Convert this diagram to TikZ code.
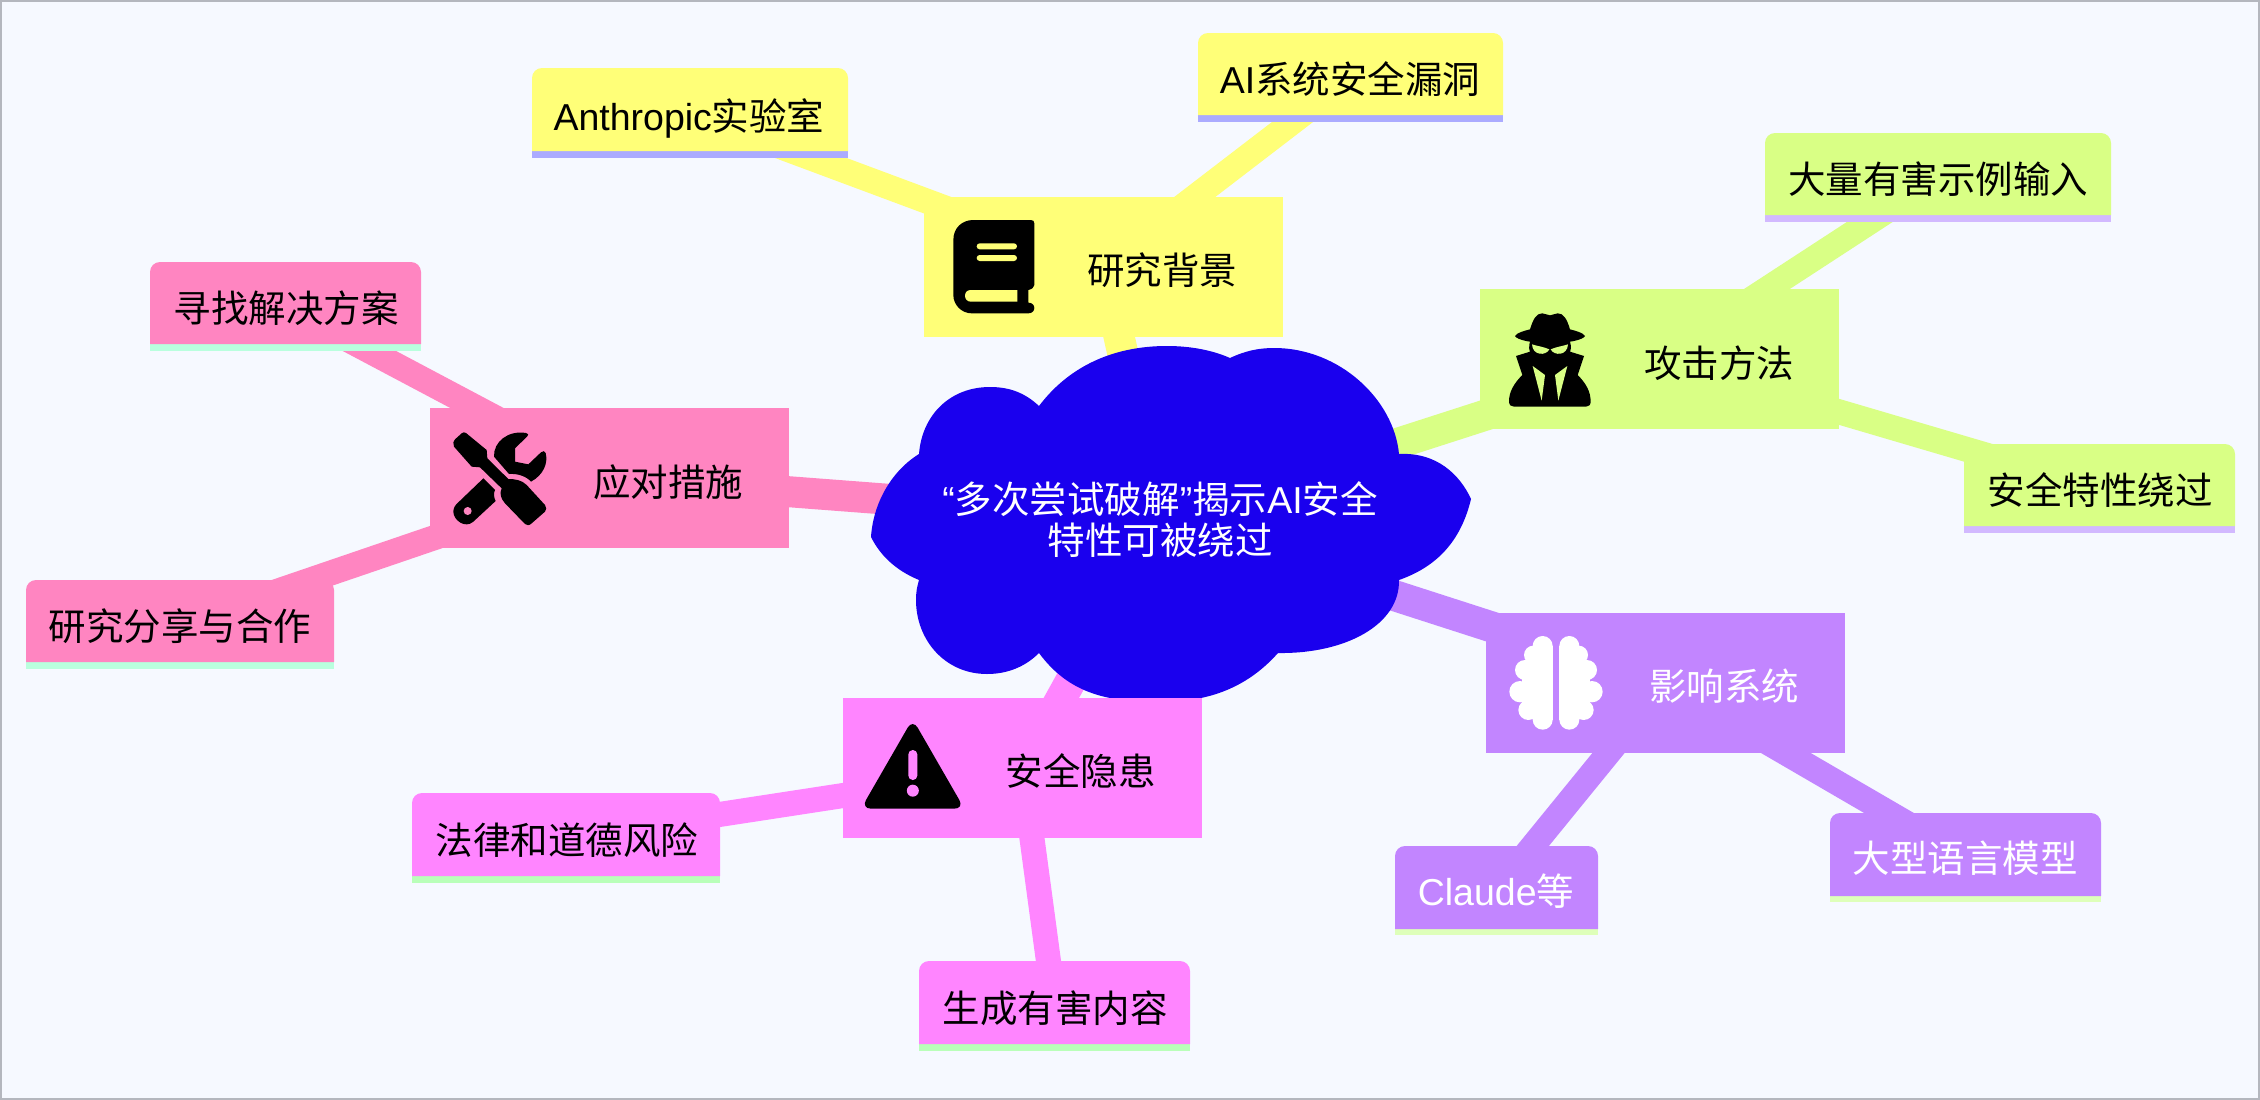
\documentclass[tikz,border=0pt]{standalone}
\usepackage{fontspec}
\setmainfont{Noto Sans CJK SC}
\newfontfamily\lat{Liberation Sans}
\usetikzlibrary{backgrounds}
\definecolor{bgc}{HTML}{F6F9FF}
\definecolor{framec}{HTML}{B4B7BE}
\definecolor{rootc}{HTML}{1A00EE}
\definecolor{yel}{HTML}{FFFF78}
\definecolor{yelu}{HTML}{ABABFF}
\definecolor{grn}{HTML}{D9FF85}
\definecolor{grnu}{HTML}{D2B9FF}
\definecolor{pur}{HTML}{C285FF}
\definecolor{puru}{HTML}{DEFFBA}
\definecolor{mag}{HTML}{FF85FF}
\definecolor{magu}{HTML}{B9FFB9}
\definecolor{pnk}{HTML}{FF85C1}
\definecolor{pnku}{HTML}{B9FFDE}
\tikzset{
  x=1pt,y=-1pt,
  secbox/.style={minimum width=359pt,minimum height=140pt,inner sep=0pt,outer sep=0pt},
  leafanchor/.style={inner sep=0pt,outer sep=0pt,minimum size=1pt},
  lbl/.style={inner sep=0pt,outer sep=0pt,text height=32pt,text depth=4pt,font=\fontsize{37.5}{41}\selectfont},
  trunk/.style={line width=31pt},
  twig/.style={line width=25pt},
  icon/.style={shift={(#1)},scale=1/3},
}
% name, x1, y-top, y-body-bottom, y-underline-bottom, x2, fill, underline
\newcommand{\leafbox}[8]{%
  \fill[#8] (#2,#4) rectangle (#6,#5);
  \fill[#7] (#2,#4) [rounded corners=10pt] -- (#2,#3) -- (#6,#3) [sharp corners] -- (#6,#4) -- cycle;
  \node[leafanchor] (#1) at ({(#2+#6)/2},{(#3+#5)/2}) {};
}
\begin{document}
\begin{tikzpicture}
\useasboundingbox (0,0) rectangle (2260,1100);
\begin{scope}[on background layer]
  \fill[bgc] (0,0) rectangle (2260,1100);
  \draw[framec,line width=2pt] (1,1) rectangle (2259,1099);
\end{scope}

% cloud
\fill[rootc] (1039,406)
  .. controls (1070,365) and (1115,346) .. (1167,346)
  .. controls (1190,346) and (1212,350) .. (1230,358)
  .. controls (1245,351) and (1258,348) .. (1274,348)
  .. controls (1340,348) and (1394,400) .. (1399,454)
  .. controls (1437,452) and (1460,475) .. (1471,499)
  .. controls (1460,545) and (1433,568) .. (1399,580)
  .. controls (1400,625) and (1345,654) .. (1278,653)
  .. controls (1245,690) and (1205,702) .. (1160,702)
  .. controls (1110,702) and (1070,695) .. (1039,653)
  .. controls (1025,667) and (1007,674) .. (987,674)
  .. controls (945,674) and (916,640) .. (916,600)
  .. controls (916,592) and (917,587) .. (919,580)
  .. controls (895,570) and (880,555) .. (871,537)
  .. controls (873,505) and (890,472) .. (919,454)
  .. controls (922,415) and (950,387) .. (990,387)
  .. controls (1010,387) and (1025,393) .. (1039,406) -- cycle;
\node[inner sep=0pt,outer sep=0pt,text=white,align=center,font=\fontsize{37.5}{41}\selectfont] (root) at (1160,520)
  {{\lat “}多次尝试破解{\lat ”}揭示{\lat AI}安全\\特性可被绕过};

% section boxes
\node[secbox,fill=yel] (sa) at (1103.5,267) {};
\node[secbox,fill=grn] (sb) at (1659.5,359) {};
\node[secbox,fill=pur] (sc) at (1665.5,683) {};
\node[secbox,fill=mag] (sd) at (1022.5,768) {};
\node[secbox,fill=pnk] (se) at (609,478) {};
\node[lbl] (sat) at (1162,270) {研究背景};
\node[lbl] (sbt) at (1719,363) {攻击方法};
\node[lbl,text=white] (sct) at (1724,686) {影响系统};
\node[lbl] (sdt) at (1080.5,771) {安全隐患};
\node[lbl] (set) at (668,482) {应对措施};

% leaves
\leafbox{la}{532}{68}{151}{158}{848}{yel}{yelu}
\leafbox{lb}{1198}{33}{115}{122}{1503}{yel}{yelu}
\leafbox{lc}{1765}{133}{215}{222}{2111}{grn}{grnu}
\leafbox{ld}{1964}{444}{526}{533}{2235}{grn}{grnu}
\leafbox{le}{1830}{813}{896}{902}{2101}{pur}{puru}
\leafbox{lf}{1395}{846}{929}{935}{1598}{pur}{puru}
\leafbox{lg}{412}{793}{876}{883}{720}{mag}{magu}
\leafbox{lh}{919}{961}{1044}{1051}{1190}{mag}{magu}
\leafbox{li}{150}{262}{344}{351}{421}{pnk}{pnku}
\leafbox{lj}{26}{580}{662}{669}{334}{pnk}{pnku}
\node[lbl] (lat) at (689,116) {{\lat Anthropic}实验室};
\node[lbl] (lbt) at (1350,79) {{\lat AI}系统安全漏洞};
\node[lbl] (lct) at (1938,179) {大量有害示例输入};
\node[lbl] (ldt) at (2100,490) {安全特性绕过};
\node[lbl,text=white] (let) at (1965,858) {大型语言模型};
\node[lbl,text=white] (lft) at (1496,891) {{\lat Claude}等};
\node[lbl] (lgt) at (567,840) {法律和道德风险};
\node[lbl] (lht) at (1055,1008) {生成有害内容};
\node[lbl] (lit) at (286,308) {寻找解决方案};
\node[lbl] (ljt) at (180,626) {研究分享与合作};

% connectors
\begin{scope}[on background layer]
  \draw[trunk,yel] (root.center) -- (sa.center);
  \draw[trunk,grn] (root.center) -- (sb.center);
  \draw[trunk,pur] (root.center) -- (sc.center);
  \draw[trunk,mag] (root.center) -- (sd.center);
  \draw[trunk,pnk] (root.center) -- (se.center);
  \draw[twig,yel] (sa.center) -- (la.center);
  \draw[twig,yel] (sa.center) -- (lb.center);
  \draw[twig,grn] (sb.center) -- (lc.center);
  \draw[twig,grn] (sb.center) -- (ld.center);
  \draw[twig,pur] (sc.center) -- (le.center);
  \draw[twig,pur] (sc.center) -- (lf.center);
  \draw[twig,mag] (sd.center) -- (lg.center);
  \draw[twig,mag] (sd.center) -- (lh.center);
  \draw[twig,pnk] (se.center) -- (li.center);
  \draw[twig,pnk] (se.center) -- (lj.center);
\end{scope}

% book icon
\begin{scope}[icon={900,190}]
  \fill[black] (160,150) .. controls (160,115) and (185,90) .. (220,90) -- (393,90)
    .. controls (400,90) and (403,94) .. (403,100) -- (403,285) .. controls (403,292) and (395,298) .. (385,300)
    -- (385,338) .. controls (395,338) and (403,344) .. (403,354) .. controls (403,364) and (395,370) .. (385,370)
    -- (215,370) .. controls (185,370) and (160,345) .. (160,315) -- cycle;
  \fill[yel] (212,300) -- (352,300) -- (352,335) -- (212,335) .. controls (202,335) and (195,327) .. (195,317) .. controls (195,307) and (202,300) .. (212,300) -- cycle;
  \fill[yel,rounded corners=3pt] (230,160) rectangle (351,178);
  \fill[yel,rounded corners=3pt] (230,195) rectangle (351,213);
\end{scope}

% spy icon
\begin{scope}[icon={1480,290}]
  \fill[black] (105,138) .. controls (110,128) and (135,122) .. (150,118)
    .. controls (160,85) and (170,70) .. (187,70) .. controls (195,70) and (203,76) .. (210,76)
    .. controls (217,76) and (225,70) .. (233,70) .. controls (250,70) and (260,85) .. (270,118)
    .. controls (285,122) and (310,128) .. (315,138) .. controls (310,150) and (260,160) .. (210,160)
    .. controls (160,160) and (110,150) .. (105,138) -- cycle;
  \fill[black] (150,155) -- (270,155) .. controls (278,180) and (270,215) .. (210,240) .. controls (150,215) and (142,180) .. (150,155) -- cycle;
  \fill[black] (108,198) -- (150,185) -- (270,185) -- (312,198) -- (293,255)
    .. controls (318,280) and (332,305) .. (332,335) .. controls (332,345) and (326,350) .. (318,350)
    -- (102,350) .. controls (94,350) and (87,345) .. (87,335) .. controls (87,305) and (102,280) .. (127,255) -- cycle;
  \fill[grn] (156,163) .. controls (170,168) and (190,170) .. (208,178) .. controls (198,198) and (158,198) .. (156,163) -- cycle;
  \fill[grn] (264,163) .. controls (250,168) and (230,170) .. (212,178) .. controls (222,198) and (262,198) .. (264,163) -- cycle;
  \fill[grn] (158,228) -- (195,255) -- (185,332) -- cycle;
  \fill[grn] (262,228) -- (225,255) -- (235,332) -- cycle;
\end{scope}

% tools icon
\begin{scope}[icon={430,405}]
  \fill[black] (70,112) .. controls (70,108) and (72,106) .. (75,103) -- (95,85) .. controls (99,81) and (104,81) .. (108,84)
    -- (170,135) -- (172,160) -- (235,222) .. controls (255,222) and (275,225) .. (290,240)
    -- (345,300) .. controls (350,306) and (350,315) .. (345,320) -- (305,355) .. controls (298,362) and (290,362) .. (285,357)
    -- (225,295) .. controls (212,280) and (208,265) .. (215,250) -- (150,187) -- (125,185) -- (72,125) .. controls (70,120) and (70,116) .. (70,112) -- cycle;
  \fill[black] (192,155) .. controls (190,110) and (235,75) .. (288,84) .. controls (295,85) and (297,90) .. (292,94)
    -- (255,130) -- (255,170) -- (295,178) -- (333,142) .. controls (338,137) and (346,137) .. (347,144)
    .. controls (355,175) and (340,210) .. (303,230) .. controls (290,215) and (265,205) .. (237,207) -- cycle;
  \fill[black] (160,220) -- (195,255) .. controls (190,265) and (192,280) .. (197,288) -- (130,350)
    .. controls (105,372) and (70,345) .. (70,320) .. controls (70,310) and (75,300) .. (85,292) -- cycle;
  \fill[pnk] (113,318) circle (12pt);
\end{scope}

% warning icon
\begin{scope}[icon={840,700}]
  \fill[black,rounded corners=10pt] (218,57) -- (373,326) -- (63,326) -- cycle;
  \fill[mag,rounded corners=4.4pt] (205,150) rectangle (232,240);
  \fill[mag] (218.5,272) circle (18pt);
\end{scope}

% brain icon
\begin{scope}[icon={1490,610}]
  \foreach \mx/\sg in {0/1,396/-1} {
    \begin{scope}[shift={(\mx,0)},xscale=\sg]
      \fill[white] (158,108) circle (30pt);
      \fill[white] (130,135) circle (28pt);
      \fill[white] (105,180) circle (30pt);
      \fill[white] (90,245) circle (32pt);
      \fill[white] (115,300) circle (30pt);
      \fill[white] (158,329) circle (30pt);
      \fill[white] (95,170) rectangle (188,300);
      \fill[white] (128,108) rectangle (188,330);
    \end{scope}
  }
\end{scope}
\end{tikzpicture}
\end{document}
